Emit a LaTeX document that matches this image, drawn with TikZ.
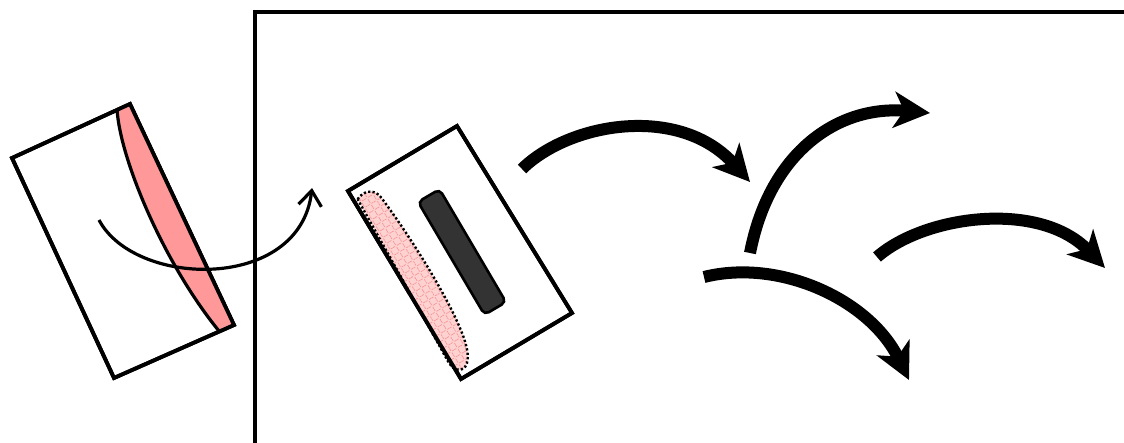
\documentclass[tikz,border=0pt]{standalone}
\usepackage{tikz}
\usetikzlibrary{arrows.meta,patterns.meta}
\definecolor{lenscol}{RGB}{255,153,153}
\definecolor{hatchbg}{RGB}{255,210,210}
\definecolor{hatchln}{RGB}{245,150,150}
\definecolor{barcol}{RGB}{51,51,51}
\tikzset{
  frame/.style={line width=4.4pt, line cap=rect},
  plate/.style={draw, fill=white, line width=3.8pt, line join=miter},
  lens/.style={fill=lenscol, draw, line width=3.2pt},
  spot/.style={preaction={fill=hatchbg},
               pattern={Hatch[angle=31,distance=7pt,line width=0.7pt]},
               pattern color=hatchln},
  spotedge/.style={draw, line width=2.4pt, dash pattern=on 2.2pt off 2.2pt},
  bar/.style={draw, fill=barcol, line width=2.6pt, rounded corners=5pt,
              minimum width=131pt, minimum height=25pt, inner sep=0pt},
  flip/.style={-{Straight Barb[length=15pt,width=23pt,line width=3.2pt]},
               line width=3.2pt},
  bigar/.style={-{Stealth[length=36pt,width=36pt,inset=10pt]}, line width=12pt},
}

\begin{document}
\begin{tikzpicture}[x=1pt, y=-1pt]
  \useasboundingbox (0,0) rectangle (1124,443);

  % frame
  \coordinate (fb) at (255,445);
  \coordinate (fc) at (255,12);
  \coordinate (fr) at (1126,12);
  \draw[frame] (fb) -- (fc) -- (fr);

  % left plate with lens
  \coordinate (a1) at (12,158);
  \coordinate (a2) at (130,104);
  \coordinate (a3) at (234,325);
  \coordinate (a4) at (114,378);
  \coordinate (lt) at (117,109);
  \coordinate (lb) at (219,331);
  \draw[plate] (a1) -- (a2) -- (a3) -- (a4) -- cycle;
  \fill[lenscol] (lt) .. controls (120,160) and (165,265) .. (lb) -- (a3) -- (a2) -- cycle;
  \draw[lens, fill=none] (lt) .. controls (120,160) and (165,265) .. (lb);
  \draw[plate, fill=none] (a1) -- (a2) -- (a3) -- (a4) -- cycle;

  % flip arrow
  \coordinate (fs) at (99,220);
  \coordinate (fe) at (312,188);
  \draw[flip] (fs) .. controls (135,288) and (300,292) .. (fe);

  % middle plate
  \coordinate (b1) at (348,191);
  \coordinate (b2) at (457,126);
  \coordinate (b3) at (572,313);
  \coordinate (b4) at (461,379);
  \draw[plate] (b1) -- (b2) -- (b3) -- (b4) -- cycle;
  \begin{scope}[shift={(b1)}, rotate=-59]
    \draw[spot, spotedge] (12,-4) .. controls (8,-12) and (10,-23) .. (22,-25)
      .. controls (70,-30) and (140,-31) .. (178,-25)
      .. controls (205,-21) and (214,-12) .. (211,-4)
      .. controls (209,0) and (205,2) .. (198,2) -- cycle;
  \end{scope}
  \draw[plate, fill=none] (b1) -- (b2) -- (b3) -- (b4) -- cycle;
  \node[bar, rotate=-59.5] (mark) at (462,252) {};

  % thick arrows
  \coordinate (s1) at (522,169);
  \coordinate (e1) at (750,182);
  \coordinate (s2) at (750,253);
  \coordinate (e2) at (930,113);
  \coordinate (s3) at (704,277);
  \coordinate (e3) at (909,380);
  \coordinate (s4) at (877,257);
  \coordinate (e4) at (1105,268);
  \draw[bigar] (s1) .. controls (570,122) and (680,104) .. (e1);
  \draw[bigar] (s2) .. controls (770,150) and (840,105) .. (e2);
  \draw[bigar] (s3) .. controls (780,258) and (870,300) .. (e3);
  \draw[bigar] (s4) .. controls (925,215) and (1040,200) .. (e4);
\end{tikzpicture}
\end{document}
